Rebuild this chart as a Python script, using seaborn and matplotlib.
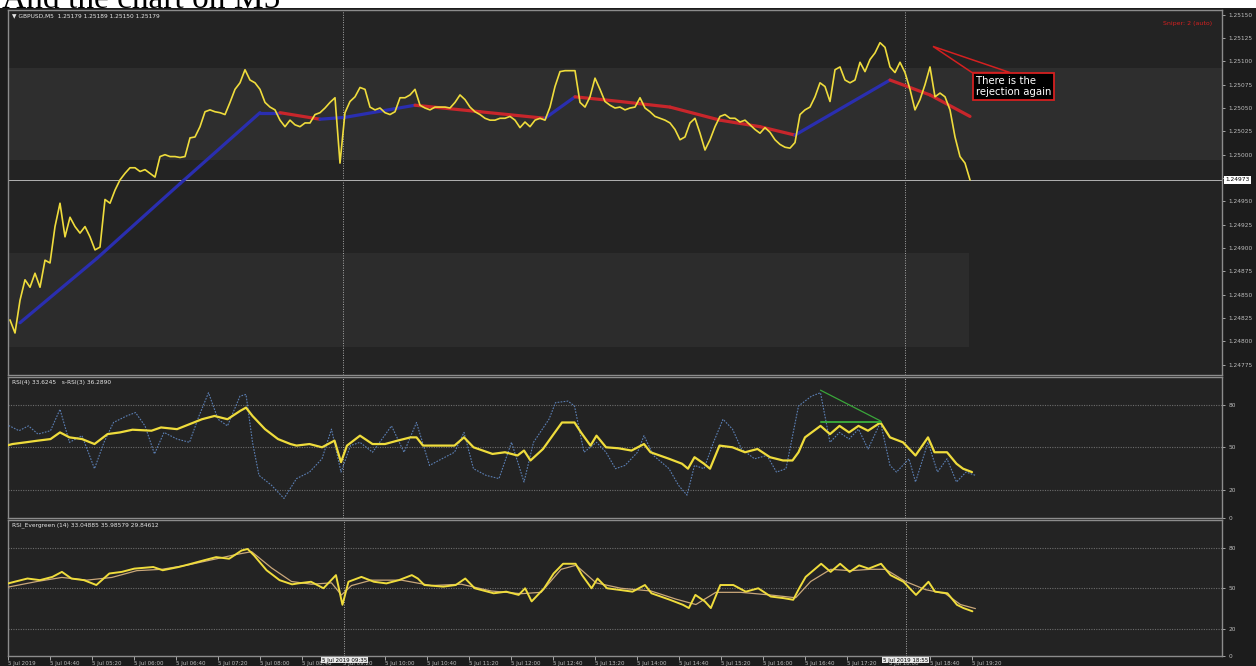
import numpy as np
import seaborn as sns
import matplotlib.pyplot as plt
from matplotlib.patches import Rectangle, Polygon

# GBPUSD M5 closes, one value per bar
close = [
    1.24823, 1.24809, 1.24844, 1.24866, 1.24858, 1.24873, 1.24858, 1.24887, 1.24884, 1.24923,
    1.24948, 1.24912, 1.24933, 1.24923, 1.24916, 1.24923, 1.24912, 1.24898, 1.24901, 1.24952,
    1.24948, 1.24962, 1.24973, 1.24980, 1.24986, 1.24986, 1.24982, 1.24984, 1.24980, 1.24976,
    1.24998, 1.25000, 1.24998, 1.24998, 1.24997, 1.24998, 1.25018, 1.25019, 1.25030, 1.25046,
    1.25048, 1.25046, 1.25045, 1.25043, 1.25056, 1.25070, 1.25077, 1.25091, 1.25080, 1.25077,
    1.25070, 1.25056, 1.25051, 1.25048, 1.25037, 1.25030, 1.25037, 1.25032, 1.25030, 1.25034,
    1.25034, 1.25043, 1.25045, 1.25050, 1.25056, 1.25061, 1.24991, 1.25045, 1.25057, 1.25062,
    1.25072, 1.25070, 1.25051, 1.25048, 1.25050, 1.25045, 1.25043, 1.25046, 1.25061, 1.25061,
    1.25064, 1.25070, 1.25053, 1.25050, 1.25048, 1.25051, 1.25051, 1.25051, 1.25050, 1.25056,
    1.25064, 1.25059, 1.25051, 1.25046, 1.25043, 1.25039, 1.25037, 1.25037, 1.25039, 1.25039,
    1.25041, 1.25037, 1.25029, 1.25035, 1.25030, 1.25037, 1.25039, 1.25037, 1.25051, 1.25073,
    1.25089, 1.25090, 1.25090, 1.25090, 1.25056, 1.25051, 1.25062, 1.25082, 1.25070, 1.25057,
    1.25053, 1.25050, 1.25051, 1.25048, 1.25050, 1.25051, 1.25061, 1.25050, 1.25046, 1.25041,
    1.25039, 1.25037, 1.25034, 1.25027, 1.25016, 1.25019, 1.25034, 1.25039, 1.25023, 1.25005,
    1.25016, 1.25030, 1.25041, 1.25043, 1.25039, 1.25039, 1.25035, 1.25037, 1.25032, 1.25027,
    1.25023, 1.25029, 1.25024, 1.25016, 1.25011, 1.25008, 1.25007, 1.25013, 1.25043, 1.25048,
    1.25051, 1.25062, 1.25077, 1.25073, 1.25057, 1.25091, 1.25094, 1.25080, 1.25077, 1.25080,
    1.25099, 1.25089, 1.25102, 1.25109, 1.25120, 1.25115, 1.25094, 1.25088, 1.25099, 1.25088,
    1.25070, 1.25048, 1.25059, 1.25075, 1.25094, 1.25062, 1.25066, 1.25062, 1.25048, 1.25019,
    1.24998, 1.24991, 1.24973,
]

# moving average, sampled at its bends
ma_bars = [2, 17.4, 34, 50, 54, 62, 67, 81, 94, 107, 113, 122, 132, 142, 150, 157, 176, 184, 192]
ma_values = [1.24820, 1.24889, 1.24969, 1.25045, 1.25045, 1.25038, 1.25040, 1.25053, 1.25046,
             1.25039, 1.25062, 1.25057, 1.25051, 1.25037, 1.25030, 1.25021, 1.25080, 1.25064, 1.25041]

# RSI panel
rsi_bars = [
    -2.0, 0.5, 3.1, 5.6, 8.1, 10.0, 11.9, 14.4, 16.9, 19.5,
    22.0, 24.5, 28.3, 30.2, 33.4, 35.9, 38.4, 40.9, 43.5, 46.0,
    47.2, 48.5, 51.0, 53.6, 56.1, 57.3, 59.9, 62.4, 64.9, 66.2,
    67.4, 70.0, 72.5, 75.0, 77.5, 80.1, 81.3, 82.6, 86.4, 88.9,
    90.8, 92.7, 96.5, 99.0, 101.5, 102.8, 104.1, 106.6, 108.5, 110.4,
    112.9, 114.2, 116.1, 117.3, 119.2, 121.7, 124.3, 126.8, 128.1, 131.8,
    134.4, 135.6, 136.9, 138.8, 140.0, 141.9, 144.5, 147.0, 149.5, 152.0,
    154.6, 156.5, 157.7, 159.0, 162.1, 164.0, 165.9, 167.8, 169.7, 171.6,
    174.1, 176.0, 178.6, 181.1, 183.6, 184.9, 187.4, 189.3, 190.6, 192.4,
]
rsi_slow = [
    49.9, 52.2, 53.4, 54.6, 55.7, 60.4, 56.9, 55.7, 52.2, 59.2,
    60.4, 62.3, 61.6, 63.9, 62.7, 66.2, 69.7, 72.0, 69.7, 75.5,
    77.9, 72.0, 62.7, 55.7, 52.2, 51.1, 52.2, 49.9, 54.6, 39.4,
    51.1, 58.1, 52.2, 52.2, 54.6, 56.9, 56.9, 51.1, 51.1, 51.1,
    56.9, 49.9, 45.2, 46.4, 44.1, 47.6, 40.6, 48.7, 58.1, 67.4,
    67.4, 60.4, 51.1, 58.1, 49.9, 49.2, 47.6, 52.2, 46.4, 41.8,
    38.3, 34.8, 42.9, 38.3, 34.8, 51.1, 49.9, 46.4, 48.7, 42.9,
    40.6, 40.6, 46.4, 56.9, 65.0, 59.2, 65.0, 60.4, 65.0, 61.6,
    67.4, 56.9, 53.4, 44.1, 56.9, 46.4, 46.4, 38.3, 34.8, 32.4,
]
rsi_fast_bars = [
    -2.0, -0.1, 1.8, 3.7, 5.6, 8.1, 10.0, 11.9, 14.4, 16.9,
    18.8, 20.7, 23.3, 25.1, 27.0, 28.9, 30.8, 33.4, 35.9, 37.8,
    39.7, 41.6, 43.5, 46.0, 47.2, 48.5, 49.8, 52.3, 54.8, 57.3,
    59.9, 62.4, 64.3, 66.2, 68.1, 70.0, 72.5, 76.3, 78.8, 81.3,
    83.9, 86.4, 88.9, 90.8, 92.7, 95.2, 97.8, 100.3, 102.8, 104.7,
    107.8, 109.1, 111.6, 112.9, 114.8, 117.3, 119.2, 121.1, 123.0, 125.5,
    126.8, 128.7, 131.8, 133.7, 135.4, 136.9, 138.8, 140.7, 142.6, 144.5,
    146.3, 148.9, 151.4, 153.3, 155.2, 157.7, 160.3, 162.1, 164.0, 165.9,
    167.8, 169.7, 171.6, 174.1, 176.0, 177.3, 179.8, 181.1, 183.6, 185.5,
    187.4, 189.3, 191.2, 193.1,
]
rsi_fast = [
    62.7, 65.0, 61.6, 65.0, 59.2, 61.6, 76.7, 53.4, 58.1, 34.8,
    53.4, 67.4, 72.0, 74.4, 65.0, 45.2, 60.4, 55.7, 53.4, 72.0,
    88.4, 69.7, 65.0, 86.0, 87.2, 53.4, 30.1, 23.1, 13.8, 27.8,
    32.4, 41.8, 62.7, 32.4, 51.1, 53.4, 46.4, 65.0, 46.4, 67.4,
    37.1, 41.8, 46.4, 60.4, 34.8, 30.1, 27.8, 53.4, 25.4, 53.4,
    69.7, 81.4, 82.5, 79.0, 46.4, 53.4, 46.4, 34.8, 37.1, 46.4,
    58.1, 44.1, 34.8, 23.1, 16.1, 37.1, 34.8, 53.4, 69.7, 62.7,
    48.7, 41.8, 44.1, 32.4, 34.8, 79.0, 86.0, 88.4, 53.4, 60.4,
    55.7, 62.7, 48.7, 67.4, 37.1, 32.4, 41.8, 25.4, 53.4, 32.4,
    41.8, 25.4, 32.4, 30.1,
]
# divergence drawn in green on the RSI panel
div_bars = [162.1, 174.1]
div_top = [90.2, 68.5]
div_base = [67.4, 67.4]

# RSI_Evergreen panel (main line shares rsi_bars)
evg_main = [
    52.4, 54.8, 57.2, 56.0, 58.4, 62.1, 57.2, 56.0, 52.4, 60.9,
    62.1, 64.5, 65.7, 63.3, 65.7, 68.1, 70.6, 73.0, 71.8, 77.9,
    79.0, 74.2, 63.3, 56.0, 52.9, 53.6, 54.8, 50.0, 59.7, 37.8,
    54.8, 58.4, 54.8, 53.6, 56.0, 59.7, 57.2, 52.4, 51.2, 52.4,
    57.2, 50.0, 46.3, 47.5, 45.1, 50.0, 40.3, 50.0, 60.9, 68.1,
    68.1, 59.7, 50.0, 57.2, 50.0, 48.8, 47.5, 52.4, 46.3, 41.5,
    37.8, 35.4, 45.1, 40.3, 35.4, 52.4, 52.4, 47.5, 50.0, 43.9,
    42.7, 41.5, 50.0, 58.4, 68.1, 62.1, 68.1, 62.1, 66.9, 64.5,
    68.1, 59.7, 54.8, 45.1, 54.8, 47.5, 46.3, 37.8, 35.4, 33.0,
]
evg_sig_bars = [-2, 5, 10, 15, 20, 25, 30, 35, 40, 45, 48, 52, 56, 60, 64, 66, 68, 72, 78, 84,
                90, 96, 102, 106, 110, 113, 117, 122, 128, 133, 137, 141, 146, 152, 157, 160,
                164, 168, 172, 175, 179, 183, 187, 190, 193]
evg_signal = [50, 55, 58, 56, 58, 63, 64, 67, 71, 75, 77, 65, 55, 53, 54, 45, 52, 56, 56, 52,
              53, 48, 46, 47, 64, 67, 54, 50, 48, 42, 38, 47, 47, 45, 43, 55,
              64, 63, 64, 64, 55, 49, 46, 38, 35]

price_ticks = [1.25150, 1.25125, 1.25100, 1.25075, 1.25050, 1.25025, 1.25000, 1.24975,
               1.24950, 1.24925, 1.24900, 1.24875, 1.24850, 1.24825, 1.24800, 1.24775]
level_ticks = [80, 50, 20, 0]
time_labels = ["5 Jul 2019", "5 Jul 04:40", "5 Jul 05:20", "5 Jul 06:00", "5 Jul 06:40",
               "5 Jul 07:20", "5 Jul 08:00", "5 Jul 08:40", "5 Jul 09:20", "5 Jul 10:00",
               "5 Jul 10:40", "5 Jul 11:20", "5 Jul 12:00", "5 Jul 12:40", "5 Jul 13:20",
               "5 Jul 14:00", "5 Jul 14:40", "5 Jul 15:20", "5 Jul 16:00", "5 Jul 16:40",
               "5 Jul 17:20", "5 Jul 18:00", "5 Jul 18:40", "5 Jul 19:20"]
sep_bars = [66.6, 179.0]
sep_labels = ["5 Jul 2019 09:35", "5 Jul 2019 18:55"]
note_text = "There is the\nrejection again"

YELLOW = "#efdc3c"
RED = "#d42020"

sns.set_theme(style="dark", rc={
    "figure.facecolor": "#1c1c1c",
    "axes.facecolor": "#232323",
    "axes.edgecolor": "#8c8c8c",
    "axes.linewidth": 1.0,
    "xtick.color": "#9a9a9a",
    "ytick.color": "#9a9a9a",
})
plt.rcParams["font.family"] = ["DejaVu Sans"]

W, H = 1256, 666
fig = plt.figure(figsize=(W / 100, H / 100), dpi=100)


def px_axes(left, top, right, bottom):
    return fig.add_axes([left / W, 1 - bottom / H, (right - left) / W, (bottom - top) / H])


ax_p = px_axes(8, 10, 1222, 375)
ax_r = px_axes(8, 377, 1222, 518)
ax_e = px_axes(8, 520, 1222, 656)

# white strip with the (cut off) post title above the chart
fig.add_artist(Rectangle((0, 1 - 8 / H), 1, 8 / H, transform=fig.transFigure,
                         fc="white", ec="none", zorder=-5))
fig.text(2 / W, 1 - 8 / H, "And the chart on M5", fontsize=24, color="black",
         family=["Liberation Serif", "DejaVu Serif"], va="baseline", zorder=-4)

# ---- price panel ----
bars = np.arange(len(close))
ax_p.axhspan(1.24994, 1.25093, color="#2e2e2e", lw=0, zorder=0)
ax_p.axhspan(1.24794, 1.24895, xmax=0.792, color="#2c2c2c", lw=0, zorder=0)
ax_p.axhline(close[-1], color="#c8c8c8", lw=0.6, zorder=2)

for i in range(len(ma_bars) - 1):
    col = "#2a2eb0" if ma_values[i + 1] >= ma_values[i] else "#c8262b"
    sns.lineplot(x=ma_bars[i:i + 2], y=ma_values[i:i + 2], ax=ax_p, color=col,
                 lw=2.3, zorder=3, solid_capstyle="round")
sns.lineplot(x=bars, y=close, ax=ax_p, color=YELLOW, lw=1.2, zorder=4, estimator=None)

# callout: narrow red wedge from the rejection high down to the note box
ax_p.add_patch(Polygon([(184.6, 1.25116), (192.4, 1.25088), (200.0, 1.25088)],
                       closed=True, fill=False, ec=RED, lw=1.1, zorder=5))
ax_p.text(193.2, 1.25073, note_text, color="white", fontsize=7.3, ha="left", va="center",
          zorder=6, linespacing=1.05,
          bbox=dict(boxstyle="square,pad=0.3", fc="black", ec=RED, lw=1.3))

ax_p.set_ylim(1.24764, 1.25155)
ax_p.yaxis.tick_right()
ax_p.set_yticks(price_ticks)
ax_p.set_yticklabels([f"{v:.5f}" for v in price_ticks])
# the live price box takes the place of the nearest scale label
near = int(np.argmin([abs(v - close[-1]) for v in price_ticks]))
ax_p.get_yticklabels()[near].set_visible(False)
ax_p.text(1.003, close[-1], f"{close[-1]:.5f}", transform=ax_p.get_yaxis_transform(),
          fontsize=4.2, color="black", va="center", ha="left", clip_on=False,
          bbox=dict(boxstyle="square,pad=0.2", fc="white", ec="none"))
ax_p.text(0.003, 0.99, "\u25bc GBPUSD,M5  1.25179 1.25189 1.25150 1.25179",
          transform=ax_p.transAxes, fontsize=4.2, color="#e6e6e6", va="top")
ax_p.text(0.992, 0.97, "Sniper: 2 (auto)", transform=ax_p.transAxes, fontsize=4.5,
          color=RED, va="top", ha="right")

# ---- RSI panel ----
sns.lineplot(x=rsi_fast_bars, y=rsi_fast, ax=ax_r, color="#5b7fb4", lw=0.8,
             linestyle=(0, (1.5, 1.2)), estimator=None, zorder=3)
sns.lineplot(x=rsi_bars, y=rsi_slow, ax=ax_r, color=YELLOW, lw=1.6, estimator=None, zorder=4)
sns.lineplot(x=div_bars, y=div_top, ax=ax_r, color="#3aa63a", lw=0.9, zorder=5)
sns.lineplot(x=div_bars, y=div_base, ax=ax_r, color="#3aa63a", lw=1.4, zorder=5)
ax_r.set_ylim(0.5, 99.5)
ax_r.text(0.003, 0.98, "RSI(4) 33.6245   s-RSI(3) 36.2890", transform=ax_r.transAxes,
          fontsize=4.2, color="#e6e6e6", va="top")

# ---- RSI_Evergreen panel ----
sns.lineplot(x=evg_sig_bars, y=evg_signal, ax=ax_e, color="#c9a77a", lw=0.9,
             estimator=None, zorder=3)
sns.lineplot(x=rsi_bars, y=evg_main, ax=ax_e, color=YELLOW, lw=1.4, estimator=None, zorder=4)
ax_e.set_ylim(1.5, 100.4)
ax_e.text(0.003, 0.98, "RSI_Evergreen (14) 33.04885 35.98579 29.84612", transform=ax_e.transAxes,
          fontsize=4.2, color="#e6e6e6", va="top")

for ax in (ax_r, ax_e):
    for lv in level_ticks[:3]:
        ax.axhline(lv, color="#6c6c6c", lw=0.8, ls=(0, (1, 1.2)), zorder=1)
    ax.yaxis.tick_right()
    ax.set_yticks(level_ticks)
    ax.set_yticklabels([str(v) for v in level_ticks])

for ax in (ax_p, ax_r, ax_e):
    ax.set_xlim(-0.4, 242.4)
    ax.set_xlabel("")
    ax.set_ylabel("")
    for b in sep_bars:
        ax.axvline(b, color="#a8a8a8", lw=0.7, ls=(0, (1, 1.5)), zorder=2)
    ax.tick_params(axis="y", length=2.5, width=0.6, pad=2, labelsize=4.2,
                   colors="#bdbdbd", right=True, left=False)
    ax.grid(False)
    for s in ax.spines.values():
        s.set_color("#8c8c8c")

ax_p.set_xticks([])
ax_r.set_xticks([])

tick_pos = -0.8 + 8.4 * np.arange(len(time_labels))
ax_e.set_xticks(tick_pos)
ax_e.set_xticklabels(time_labels)
ax_e.tick_params(axis="x", length=3, width=0.6, pad=0.5, labelsize=4, colors="#bdbdbd",
                 bottom=True)
for lbl in ax_e.get_xticklabels():
    lbl.set_ha("left")
for b, txt in zip(sep_bars, sep_labels):
    ax_e.text(b, -0.012, txt, transform=ax_e.get_xaxis_transform(), fontsize=4,
              color="black", ha="center", va="top", clip_on=False, zorder=10,
              bbox=dict(boxstyle="square,pad=0.15", fc="#e8e8e8", ec="none"))

fig.savefig("out.png", dpi=100, facecolor=fig.get_facecolor())
